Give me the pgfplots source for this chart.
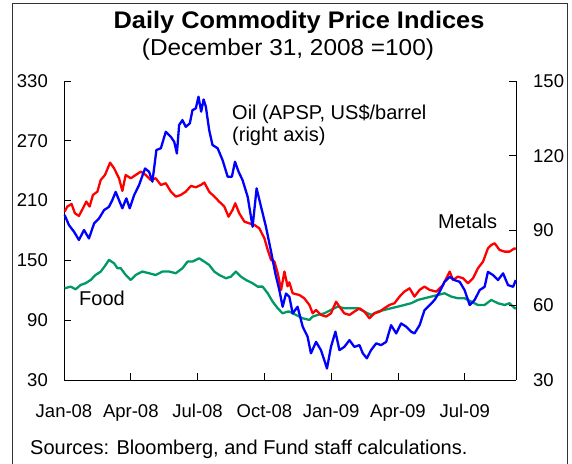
\documentclass[border=0pt]{standalone}
\usepackage{pgfplots}
\pgfplotsset{compat=1.18}
\usepackage{graphicx}
\usepackage{fontspec}
\setmainfont{Liberation Sans}
\definecolor{metred}{RGB}{255,0,0}
\definecolor{oilblue}{RGB}{0,0,255}
\definecolor{foodgreen}{RGB}{0,153,102}

\pgfplotstableread{
m v
0.03 199
0.15 204
0.34 206.6
0.49 197.3
0.67 194.6
0.85 202.3
1.00 209
1.15 204
1.30 215.7
1.50 219
1.65 230.7
1.84 235.7
2.07 248.1
2.25 242.4
2.47 232.4
2.62 219.7
2.77 235.7
3.00 232.4
3.22 235.7
3.45 239.1
3.67 235.7
3.90 230.7
4.12 232.4
4.35 225.7
4.57 227.4
4.80 219
5.02 214
5.25 215.7
5.47 219
5.70 224.7
5.92 223.4
6.15 225.7
6.30 228.1
6.52 219
6.75 214
6.97 209
7.20 204
7.39 193.9
7.57 200.6
7.69 207.3
7.87 197.3
8.10 188.9
8.32 187.2
8.55 185.6
8.77 182.2
9.00 172.2
9.15 160.5
9.30 150.5
9.45 148.8
9.60 137.1
9.75 120.4
9.90 138.8
10.04 124
10.12 128
10.27 117
10.57 115.3
10.79 112
11.02 105.3
11.17 96.9
11.32 100.3
11.54 95.3
11.77 93.6
11.99 96.9
12.22 108.6
12.37 103.6
12.59 96.9
12.82 95.3
13.04 98.6
13.27 102
13.49 98.6
13.72 91.9
13.94 96.9
14.17 98.6
14.39 102
14.62 105.3
14.84 107
15.07 113.7
15.29 118.7
15.52 122
15.74 113.7
15.97 120.4
16.19 123.7
16.42 120.4
16.72 118.7
17.02 125.4
17.32 138.8
17.47 130.4
17.69 133.7
17.92 132.1
18.14 127.1
18.37 132.1
18.59 142.1
18.82 148.8
19.04 162.2
19.19 165.5
19.34 167.2
19.56 160.5
19.79 158.8
20.01 158.8
20.24 162.2
20.29 161
}\metals

\pgfplotstableread{
m v
0.03 122
0.30 123.7
0.52 121
0.75 125.4
0.97 127.1
1.20 130.4
1.42 135.4
1.65 138.8
1.87 145.4
2.02 150.5
2.25 147.1
2.40 142.1
2.55 142.1
2.77 135.4
3.00 130.4
3.22 135.4
3.52 138.8
3.82 137.1
4.12 135.4
4.42 138.8
4.72 138.8
5.02 137.1
5.32 142.1
5.55 148.8
5.77 148.8
6.07 152.1
6.30 148.8
6.52 145.4
6.75 138.8
6.97 135.4
7.27 132.1
7.50 133.7
7.72 138.8
7.95 133.7
8.17 130.4
8.47 127.1
8.70 123.7
8.92 123.7
9.15 117
9.37 108.6
9.60 101.9
9.82 96.9
10.04 98.6
10.12 98.6
10.42 95.3
10.72 91.9
11.02 90.3
11.17 93.6
11.39 95.3
11.69 96.9
11.99 100.3
12.29 103.6
12.59 102
12.89 102
13.19 102
13.49 98.6
13.79 95.3
14.09 98.6
14.39 100.3
14.69 102
14.99 103.6
15.29 105.3
15.59 107
15.89 110.3
16.19 112
16.49 113.7
16.79 115.3
17.09 117
17.39 113.7
17.69 112
17.99 112
18.29 108.6
18.59 105.3
18.89 105.3
19.19 110.3
19.49 107
19.79 105.3
20.01 107
20.24 102
20.29 102
}\food

\pgfplotstableread{
m v
0.03 96.2
0.22 92.2
0.45 89.5
0.67 86.2
0.90 90.2
1.12 86.8
1.35 92.8
1.57 94.8
1.80 98.2
2.02 99.5
2.17 102.2
2.32 105.5
2.47 102.2
2.62 98.9
2.80 102.9
2.95 98.9
3.15 104.2
3.37 108.2
3.64 114.9
3.82 113.6
3.97 109.6
4.15 122.3
4.35 123
4.57 129.6
4.80 127.6
4.95 125.6
5.07 120.9
5.17 132.3
5.32 134.3
5.47 131.6
5.65 133
5.77 138.3
5.92 139
6.04 143.7
6.16 137.7
6.27 142.6
6.37 139.7
6.52 130.3
6.67 124.3
6.90 123
7.12 118.3
7.35 111.6
7.54 111.6
7.68 117.6
7.84 113.6
8.02 110.2
8.25 103.5
8.47 91.5
8.65 106.9
8.85 99.5
9.07 91.5
9.30 81.5
9.49 72.8
9.67 66.1
9.82 59.4
9.97 64.7
10.12 63.4
10.27 56.7
10.49 59.4
10.72 51.4
10.94 47.4
11.09 40.7
11.32 45.3
11.54 42
11.69 38
11.81 34.6
11.99 43.3
12.19 49.4
12.37 42
12.59 43.3
12.82 46
13.04 43.3
13.27 44
13.42 40.7
13.60 38.7
13.79 42
14.02 44.7
14.24 44
14.47 45.3
14.69 52
14.92 48.7
15.14 52.7
15.37 51.4
15.59 49.4
15.74 48.7
15.97 52
16.19 58
16.42 60
16.64 62.1
16.87 65.4
17.09 69.4
17.32 71.4
17.54 70.1
17.77 69.4
17.99 66.1
18.22 60.1
18.44 62.1
18.67 66.1
18.89 67.4
19.04 73.4
19.27 72.1
19.49 70.1
19.72 72.8
19.94 68.1
20.17 67.4
20.29 70.1
}\oil

\pgfplotsset{
  common/.style={
    scale only axis, width=452pt, height=299pt,
    at={(64pt,83pt)}, anchor=south west,
    xmin=0, xmax=20.3,
    tick align=inside, major tick length=7pt,
    tick style={black, line width=0.8pt},
    axis line style={black, line width=0.8pt, -},
    /pgf/number format/assume math mode=true,
    tick label style={font=\fontsize{18.5}{22}\selectfont},
    clip=false,
  },
  serie/.style={line width=2.3pt, line join=round, no markers},
}

\begin{document}
\begin{tikzpicture}[x=1pt,y=1pt]
\useasboundingbox (0,0) rectangle (572,463);
\draw[line width=1pt, black!80] (12,-3) -- (12,459) -- (567,459) -- (567,-3);

\begin{axis}[common,
  axis x line*=bottom, axis y line*=left,
  ymin=30, ymax=330, ytick={30,90,...,330},
  xtick={0,3,...,18},
  xticklabels={Jan-08,Apr-08,Jul-08,Oct-08,Jan-09,Apr-09,Jul-09},
  xticklabel style={anchor=base, yshift=-37.5pt, inner sep=0pt},
  yticklabel style={anchor=east, inner sep=0pt, xshift=-16pt},
]
\addplot[serie, foodgreen] table[x=m, y=v] {\food};
\addplot[serie, metred] table[x=m, y=v] {\metals};
\end{axis}

\begin{axis}[common,
  axis x line=none, axis y line*=right,
  ymin=30, ymax=150, ytick={30,60,...,150},
  yticklabel style={anchor=west, inner sep=0pt, xshift=17pt},
]
\addplot[serie, oilblue] table[x=m, y=v] {\oil};
\end{axis}

\node[anchor=base, inner sep=0pt, font=\bfseries\fontsize{24}{28}\selectfont] at (299,434) {\scalebox{1.057}[1]{Daily Commodity Price Indices}};
\node[anchor=base, inner sep=0pt, font=\fontsize{23}{27}\selectfont] at (288,407) {\scalebox{1.06}[1]{(December 31, 2008 =100)}};
\node[anchor=base west, inner sep=0pt, font=\fontsize{20}{24}\selectfont] at (232,343) {Oil (APSP, US\$/barrel};
\node[anchor=base west, inner sep=0pt, font=\fontsize{20}{24}\selectfont] at (232,321) {(right axis)};
\node[anchor=base west, inner sep=0pt, font=\fontsize{20}{24}\selectfont] at (79,157) {Food};
\node[anchor=base west, inner sep=0pt, font=\fontsize{20}{24}\selectfont] at (438,234) {Metals};
\node[anchor=base west, inner sep=0pt, font=\fontsize{20}{24}\selectfont] at (30,9) {Sources: Bloomberg, and Fund staff calculations.};
\end{tikzpicture}
\end{document}
